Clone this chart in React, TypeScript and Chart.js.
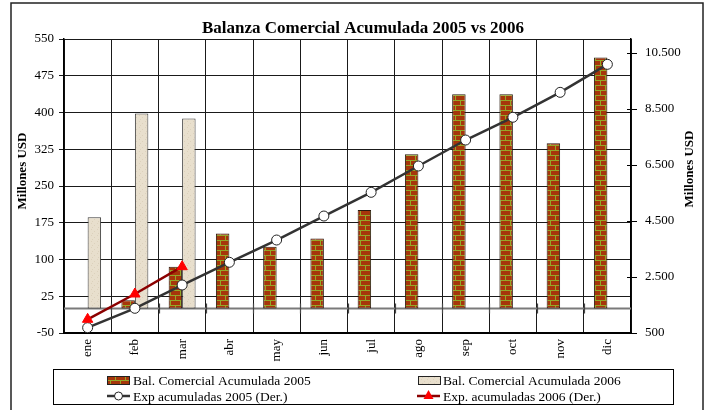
import React, { useEffect, useRef } from "react";
import { Chart, registerables } from "chart.js";

Chart.register(...registerables);

const categories = ["ene", "feb", "mar", "abr", "may", "jun", "jul", "ago", "sep", "oct", "nov", "dic"];
const bal2005 = [0, 17, 85, 153, 126, 143, 201, 315, 437, 437, 337, 512];
const bal2006 = [186, 398, 388, null, null, null, null, null, null, null, null, null];
const exp2005 = [690, 1382, 2214, 3025, 3821, 4678, 5524, 6464, 7392, 8205, 9095, 10095];
const exp2006 = [989, 1893, 2868, null, null, null, null, null, null, null, null, null];
const leftTicks = [-50, 25, 100, 175, 250, 325, 400, 475, 550];
const rightTicks = [500, 2500, 4500, 6500, 8500, 10500];

const TITLE = "Balanza Comercial Acumulada 2005 vs 2006";
const AXIS_TITLE = "Millones USD";
const LEG_2005 = "Bal. Comercial Acumulada 2005";
const LEG_2006 = "Bal. Comercial Acumulada 2006";
const LEG_EXP05 = "Exp acumuladas 2005 (Der.)";
const LEG_EXP06 = "Exp. acumuladas 2006 (Der.)";

const SERIF = '"Liberation Serif", "Times New Roman", serif';

function fmtThousands(v: number): string {
  return String(v).replace(/\B(?=(\d{3})+(?!\d))/g, ".");
}

function makeBrick(ctx: CanvasRenderingContext2D): CanvasPattern | string {
  const c = document.createElement("canvas");
  c.width = 10;
  c.height = 10;
  const g = c.getContext("2d");
  if (!g) return "#A33A08";
  g.fillStyle = "#A6360A";
  g.fillRect(0, 0, 10, 10);
  g.fillStyle = "#94A828";
  g.fillRect(0, 0, 10, 1);
  g.fillRect(0, 5, 10, 1);
  g.fillRect(0, 1, 1, 4);
  g.fillRect(5, 6, 1, 4);
  return ctx.createPattern(c, "repeat") || "#A33A08";
}

function makeBeige(ctx: CanvasRenderingContext2D): CanvasPattern | string {
  const c = document.createElement("canvas");
  c.width = 6;
  c.height = 6;
  const g = c.getContext("2d");
  if (!g) return "#E6DDCB";
  g.fillStyle = "#E8DFCD";
  g.fillRect(0, 0, 6, 6);
  g.fillStyle = "#DCD1BC";
  g.fillRect(1, 1, 1, 1);
  g.fillRect(4, 3, 1, 1);
  g.fillRect(2, 5, 1, 1);
  return ctx.createPattern(c, "repeat") || "#E6DDCB";
}

export default function App() {
  const ref = useRef<HTMLCanvasElement | null>(null);

  useEffect(() => {
    const canvas = ref.current;
    if (!canvas) return;
    const ctx = canvas.getContext("2d");
    if (!ctx) return;
    const brick = makeBrick(ctx);
    const beige = makeBeige(ctx);

    const deco = {
      id: "deco",
      beforeDatasetsDraw(chart: any) {
        const c = chart.ctx as CanvasRenderingContext2D;
        const area = chart.chartArea;
        const y = chart.scales.y;
        const y0 = y.getPixelForValue(0);
        c.save();
        c.strokeStyle = "#7a7a7a";
        c.lineWidth = 2;
        c.beginPath();
        c.moveTo(area.left, y0);
        c.lineTo(area.right, y0);
        c.stroke();
        c.strokeStyle = "#444";
        c.lineWidth = 1.2;
        const w = (area.right - area.left) / categories.length;
        for (let i = 1; i < categories.length; i++) {
          const x = Math.round(area.left + i * w) + 0.5;
          c.beginPath();
          c.moveTo(x, y0 - 5);
          c.lineTo(x, y0 + 5);
          c.stroke();
        }
        c.restore();
      },
      afterDraw(chart: any) {
        const c = chart.ctx as CanvasRenderingContext2D;
        const area = chart.chartArea;
        const y1 = chart.scales.y1;
        c.save();
        c.strokeStyle = "#000";
        c.lineWidth = 1;
        rightTicks.forEach((v) => {
          const py = Math.round(y1.getPixelForValue(v)) + 0.5;
          c.beginPath();
          c.moveTo(area.right - 4, py);
          c.lineTo(area.right, py);
          c.stroke();
        });
        c.fillStyle = "#000";
        c.font = `bold 17px ${SERIF}`;
        c.textAlign = "center";
        c.textBaseline = "alphabetic";
        c.fillText(TITLE, 363, 33);
        c.font = `bold 13px ${SERIF}`;
        c.textBaseline = "middle";
        c.save();
        c.translate(23, 171);
        c.rotate(-Math.PI / 2);
        c.fillText(AXIS_TITLE, 0, 0);
        c.restore();
        c.save();
        c.translate(690, 169);
        c.rotate(-Math.PI / 2);
        c.fillText(AXIS_TITLE, 0, 0);
        c.restore();
        c.strokeStyle = "#000";
        c.lineWidth = 1;
        c.strokeRect(53.5, 369.5, 620, 35);
        c.fillStyle = brick as any;
        c.fillRect(107.5, 376.5, 22, 8);
        c.strokeStyle = "#222";
        c.strokeRect(107.5, 376.5, 22, 8);
        c.fillStyle = beige as any;
        c.fillRect(418.5, 376.5, 22, 8);
        c.strokeRect(418.5, 376.5, 22, 8);
        c.strokeStyle = "#333";
        c.lineWidth = 2.5;
        c.beginPath();
        c.moveTo(107, 396);
        c.lineTo(130, 396);
        c.stroke();
        c.fillStyle = "#fff";
        c.lineWidth = 1;
        c.strokeStyle = "#222";
        c.beginPath();
        c.arc(118.5, 396, 4, 0, Math.PI * 2);
        c.fill();
        c.stroke();
        c.strokeStyle = "#8B0000";
        c.lineWidth = 2.5;
        c.beginPath();
        c.moveTo(417, 396);
        c.lineTo(440, 396);
        c.stroke();
        c.fillStyle = "#FF0000";
        c.beginPath();
        c.moveTo(428.5, 390);
        c.lineTo(433.5, 399);
        c.lineTo(423.5, 399);
        c.closePath();
        c.fill();
        c.fillStyle = "#000";
        c.font = `13.5px ${SERIF}`;
        c.textAlign = "left";
        c.textBaseline = "middle";
        c.fillText(LEG_2005, 133, 381);
        c.fillText(LEG_2006, 443, 381);
        c.fillText(LEG_EXP05, 133, 397);
        c.fillText(LEG_EXP06, 443, 397);
        c.strokeStyle = "#222";
        c.lineWidth = 1.5;
        c.strokeRect(11, 3, 692, 420);
        c.restore();
      },
    };

    const chart = new Chart(ctx, {
      type: "bar",
      data: {
        labels: categories,
        datasets: [
          {
            type: "line",
            label: LEG_EXP05,
            data: exp2005,
            yAxisID: "y1",
            borderColor: "#333333",
            borderWidth: 2.5,
            pointStyle: "circle",
            pointRadius: 5,
            pointBackgroundColor: "#ffffff",
            pointBorderColor: "#222222",
            pointBorderWidth: 1,
            order: 1,
          } as any,
          {
            type: "line",
            label: LEG_EXP06,
            data: exp2006,
            yAxisID: "y1",
            borderColor: "#8B0000",
            borderWidth: 2.5,
            pointStyle: "triangle",
            pointRadius: 6,
            pointBackgroundColor: "#FF0000",
            pointBorderColor: "#FF0000",
            pointBorderWidth: 1,
            order: 0,
          } as any,
          {
            type: "bar",
            label: LEG_2005,
            data: bal2005,
            yAxisID: "y",
            backgroundColor: brick as any,
            borderColor: "#2a1a10",
            borderWidth: 1,
            borderSkipped: false,
            categoryPercentage: 0.57,
            barPercentage: 1.0,
            order: 2,
          } as any,
          {
            type: "bar",
            label: LEG_2006,
            data: bal2006,
            yAxisID: "y",
            backgroundColor: beige as any,
            borderColor: "#3a3a3a",
            borderWidth: 1,
            borderSkipped: false,
            categoryPercentage: 0.57,
            barPercentage: 1.0,
            order: 3,
          } as any,
        ],
      },
      options: {
        responsive: false,
        animation: false,
        events: [],
        layout: { padding: { top: 39, left: 0, right: 0, bottom: 0 } },
        plugins: {
          legend: { display: false },
          title: { display: false },
          tooltip: { enabled: false },
        },
        scales: {
          x: {
            type: "category",
            offset: true,
            grid: { offset: true, color: "#1a1a1a", lineWidth: 1, drawTicks: false },
            border: { display: true, color: "#000", width: 2 },
            ticks: {
              maxRotation: 90,
              minRotation: 90,
              padding: 6,
              color: "#000",
              font: { family: SERIF, size: 13 },
            },
            afterFit: (s: any) => {
              s.height = 77;
            },
          },
          y: {
            position: "left",
            min: -50,
            max: 550,
            afterBuildTicks: (s: any) => {
              s.ticks = leftTicks.map((v) => ({ value: v }));
            },
            grid: { color: "#1a1a1a", lineWidth: 1, tickLength: 5 },
            border: { display: true, color: "#000", width: 1.5 },
            ticks: {
              padding: 5,
              color: "#000",
              font: { family: SERIF, size: 13 },
            },
            afterFit: (s: any) => {
              s.width = 64;
            },
          },
          y1: {
            position: "right",
            min: 500,
            max: 11000,
            afterBuildTicks: (s: any) => {
              s.ticks = rightTicks.map((v) => ({ value: v }));
            },
            grid: { drawOnChartArea: false, color: "#000", tickLength: 6 },
            border: { display: true, color: "#000", width: 1.5 },
            ticks: {
              padding: 8,
              color: "#000",
              font: { family: SERIF, size: 13 },
              callback: (v: any) => fmtThousands(Number(v)),
            },
            afterFit: (s: any) => {
              s.width = 76;
            },
          },
        },
      } as any,
      plugins: [deco],
    });
    return () => chart.destroy();
  }, []);

  return (
    <div style={{ position: "absolute", left: 0, top: 0, width: 707, height: 410, background: "#fff" }}>
      <canvas ref={ref} width={707} height={410} style={{ display: "block" }} />
    </div>
  );
}
